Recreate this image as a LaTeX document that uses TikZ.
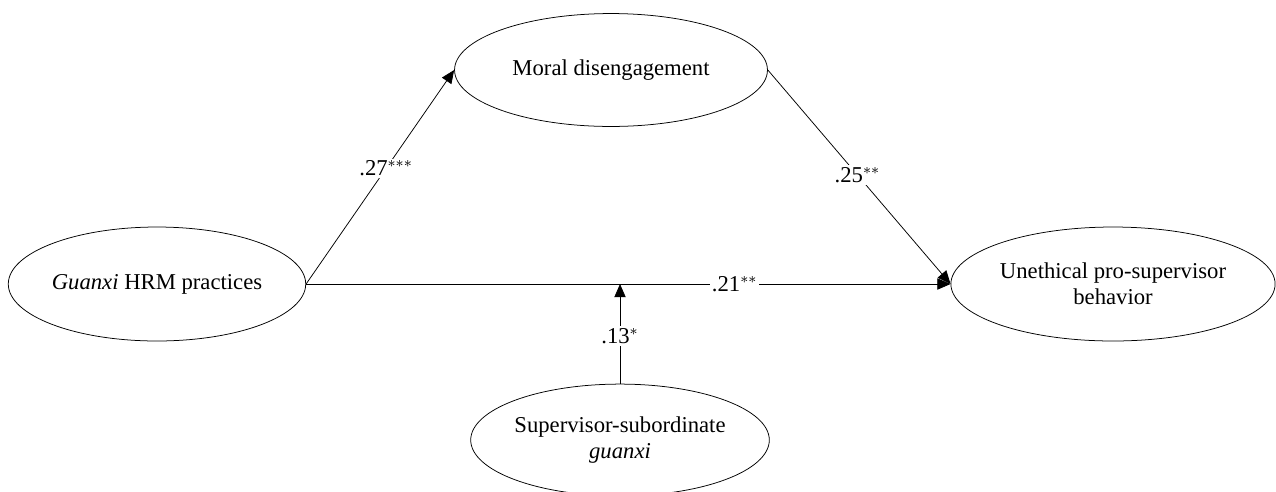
\documentclass[tikz,border=0pt]{standalone}
\usepackage{fontspec}
\setmainfont{Liberation Serif}
\usetikzlibrary{arrows.meta,positioning,shapes}

\begin{document}
\begin{tikzpicture}[x=0.0186cm,y=-0.0186cm,
  construct/.style={draw,ellipse,inner sep=0pt,align=center,font=\fontsize{12}{14}\selectfont},
  coef/.style={fill=white,inner sep=1pt,font=\fontsize{12}{14}\selectfont}]
\useasboundingbox (0,0) rectangle (1276,491);
\node[construct,minimum width=5.51cm,minimum height=2.12cm] (ghrm) at (157,284) {\textit{Guanxi} HRM practices};
\node[construct,minimum width=5.82cm,minimum height=2.10cm] (md) at (611,70) {Moral disengagement};
\node[construct,minimum width=6.03cm,minimum height=2.12cm] (upb) at (1113,284) {Unethical pro-supervisor\\behavior};
\node[construct,minimum width=5.47cm,minimum height=2.08cm] (ssg) at (620,440) {Supervisor-subordinate\\\textit{guanxi}};
\draw[-{Triangle[length=7pt,width=6pt]}] (ghrm.east) -- node[coef,pos=.54] (c27) {.27$^{***}$} (md.west);
\draw[-{Triangle[length=7pt,width=6pt]}] (md.east) -- node[coef,pos=.49] (c25) {.25$^{**}$} (upb.west);
\draw[-{Triangle[length=7pt,width=6pt]}] (ghrm.east) -- node[coef,pos=.665] (c21) {.21$^{**}$} (upb.west);
\draw[-{Triangle[length=7pt,width=6pt]}] (ssg.north) -- node[coef,pos=.48] (c13) {.13$^{*}$} (ssg.north |- ghrm.east);
\end{tikzpicture}
\end{document}
